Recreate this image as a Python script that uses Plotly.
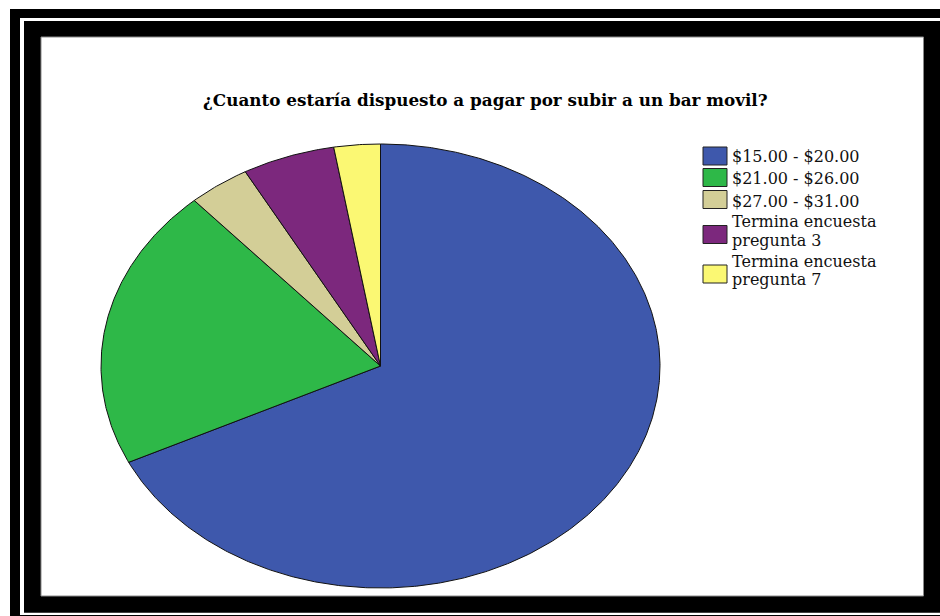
import numpy as np
import plotly.graph_objects as go

# Survey answers: willingness to pay for a ride on the mobile bar
categories = ["$15.00 - $20.00", "$21.00 - $26.00", "$27.00 - $31.00",
              "Termina encuesta<br>pregunta 3", "Termina encuesta<br>pregunta 7"]
counts = [76, 23, 4, 6, 3]
colors = ["#3E58AC", "#2EB848", "#D3CE97", "#7C287D", "#FBF873"]
title = "¿Cuanto estaría dispuesto a pagar por subir a un bar movil?"

W, H = 940, 616
# elliptical pie geometry (pixel-like data coordinates)
CX, CY, RX, RY = 380.5, 366.0, 279.5, 222.0

fig = go.Figure()

total = float(sum(counts))
start = 0.0
for name, val, col in zip(categories, counts, colors):
    sweep = 360.0 * val / total
    theta = np.radians(np.linspace(start, start + sweep, max(int(sweep * 2), 4)))
    xs = np.concatenate([[CX], CX + RX * np.sin(theta), [CX]])
    ys = np.concatenate([[CY], CY - RY * np.cos(theta), [CY]])
    fig.add_trace(go.Scatter(
        x=xs, y=ys, mode="lines", fill="toself", fillcolor=col,
        line=dict(color="#111111", width=1), name=name.replace("<br>", " "),
        hoverinfo="name", showlegend=False))
    start += sweep

shapes = [
    # framed border around the chart
    dict(type="rect", x0=10, y0=9, x1=960, y1=640, fillcolor="black", line_width=0, layer="below"),
    dict(type="rect", x0=20, y0=18, x1=960, y1=615, fillcolor="white", line_width=0, layer="below"),
    dict(type="rect", x0=24, y0=21, x1=960, y1=612.7, fillcolor="black", line_width=0, layer="below"),
    dict(type="rect", x0=41, y0=37, x1=923.5, y1=596, fillcolor="white",
         line=dict(color="#8a8a8a", width=1), layer="below"),
]

annotations = [dict(x=485, y=100, xref="x", yref="y", text="<b>" + title + "</b>",
                    showarrow=False, xanchor="center", yanchor="middle",
                    font=dict(family="DejaVu Serif", size=16.8, color="black"))]

# legend: swatch boxes and labels (wrapped labels set line by line)
sw_top = [147, 168.5, 190.5, 225.5, 265]
first_line_y = [156.5, 178.5, 201, 221.5, 261]
line_gap = 18.5
for i, (name, col) in enumerate(zip(categories, colors)):
    shapes.append(dict(type="rect", x0=703, x1=727, y0=sw_top[i], y1=sw_top[i] + 18,
                       fillcolor=col, line=dict(color="#222222", width=1)))
    for j, part in enumerate(name.split("<br>")):
        annotations.append(dict(x=731, y=first_line_y[i] + j * line_gap, xref="x", yref="y",
                                text=part, showarrow=False, xanchor="left", yanchor="middle",
                                borderpad=0,
                                font=dict(family="DejaVu Serif", size=16, color="#111111")))

fig.update_layout(
    width=W, height=H, margin=dict(l=0, r=0, t=0, b=0),
    paper_bgcolor="white", plot_bgcolor="white",
    xaxis=dict(range=[0, W], visible=False, fixedrange=True),
    yaxis=dict(range=[H, 0], visible=False, fixedrange=True),
    shapes=shapes, annotations=annotations, showlegend=False)

fig.write_html("out.html")
